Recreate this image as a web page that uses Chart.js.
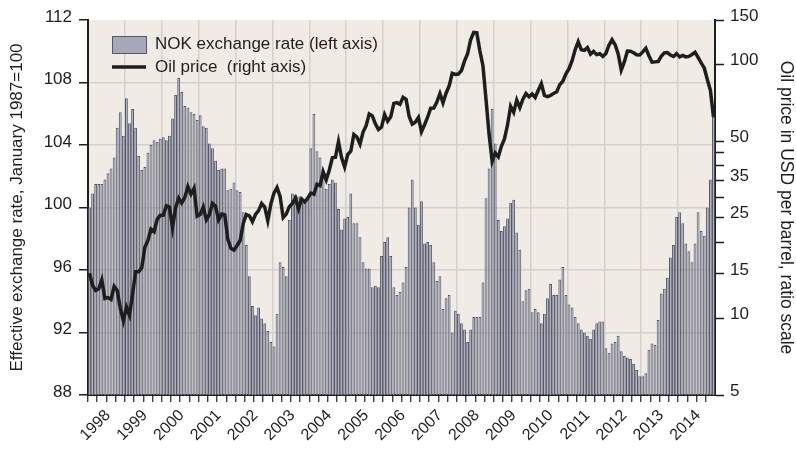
<!DOCTYPE html>
<html>
<head>
<meta charset="utf-8">
<script src="https://cdn.jsdelivr.net/npm/chart.js@4.4.0/dist/chart.umd.min.js"></script>
<style>
  html, body { margin: 0; padding: 0; background: #fff; }
</style>
</head>
<body>
<canvas id="chart" width="796" height="449"></canvas>
<script>
// years on the x axis, one bar / one line point per month
const years = [1998, 1999, 2000, 2001, 2002, 2003, 2004, 2005, 2006, 2007, 2008, 2009, 2010, 2011, 2012, 2013, 2014];

// NOK effective exchange rate, January 1987 = 100 (left axis)
const nokRate = [
  100.0, 100.9, 101.5, 101.5, 101.5, 101.8, 102.2, 102.5, 103.2, 105.1, 106.1, 104.6,
  107.0, 105.4, 106.3, 105.1, 103.3, 102.4, 102.6, 103.5, 104.0, 104.3, 104.2, 104.4,
  104.5, 104.3, 104.6, 105.7, 107.2, 108.3, 107.4, 106.5, 106.4, 106.1, 106.0, 105.6,
  105.9, 105.2, 105.1, 104.1, 103.8, 103.0, 102.4, 102.5, 102.5, 101.1, 101.2, 101.6,
  101.1, 101.0, 99.7, 97.6, 95.6, 93.7, 93.1, 93.6, 92.9, 92.6, 92.1, 91.4,
  91.1, 93.2, 96.5, 96.2, 95.6, 99.2, 100.9, 100.8, 100.7, 100.3, 100.4, 100.6,
  103.8, 106.0, 103.6, 103.2, 101.9, 101.2, 101.5, 101.8, 101.6, 99.9, 98.6, 99.3,
  99.4, 100.9, 99.0, 99.0, 98.1, 96.5, 96.1, 96.1, 94.9, 95.0, 94.9, 96.9,
  97.8, 98.1, 96.9, 94.9, 94.4, 94.6, 95.2, 96.2, 100.0, 101.8, 100.0, 98.9,
  100.4, 97.7, 97.8, 97.6, 96.5, 95.3, 95.6, 93.5, 94.2, 94.4, 92.0, 93.4,
  93.2, 92.6, 92.2, 91.4, 92.2, 93.0, 93.0, 93.0, 95.2, 100.6, 102.5, 106.3,
  104.1, 99.2, 98.5, 98.8, 99.3, 100.3, 100.5, 98.4, 97.3, 94.0, 94.7, 94.8,
  93.3, 93.5, 93.3, 92.6, 93.2, 94.2, 95.1, 94.4, 94.4, 95.4, 96.2, 94.4,
  93.8, 93.6, 93.0, 92.6, 92.2, 92.0, 91.8, 91.6, 92.2, 92.6, 92.7, 92.7,
  91.0, 90.7, 91.3, 91.4, 91.8, 90.8, 90.5, 90.4, 90.3, 90.0, 89.6, 89.2,
  89.2, 89.4, 90.9, 91.3, 91.2, 92.8, 94.5, 94.8, 95.5, 96.8, 97.6, 99.4,
  99.7, 99.0, 97.7, 97.2, 96.5, 97.7, 99.7, 98.5, 98.2, 100.0, 101.8, 105.8
];

// oil price, USD per barrel (right axis, log scale)
const oilPrice = [
  15.1, 13.5, 12.9, 13.1, 14.2, 12.0, 12.1, 11.9, 13.4, 12.9, 11.0, 9.8,
  11.1, 10.3, 12.5, 15.3, 15.3, 15.9, 19.1, 20.3, 22.5, 22.0, 24.6, 25.5,
  25.5, 27.8, 27.5, 22.8, 27.3, 29.8, 28.5, 30.0, 33.1, 30.9, 32.6, 25.3,
  25.7, 27.5, 24.5, 25.7, 28.4, 27.7, 24.5, 25.8, 25.6, 20.5, 18.9, 18.6,
  19.4, 20.3, 23.7, 25.7, 25.4, 24.1, 25.7, 26.6, 28.4, 27.5, 24.3, 28.3,
  31.2, 32.8, 30.3, 25.0, 25.8, 27.6, 28.4, 29.8, 27.1, 29.6, 28.8, 29.8,
  31.2, 30.9, 33.8, 33.4, 37.9, 35.2, 38.4, 43.0, 43.2, 49.8, 43.1, 39.6,
  44.3, 45.6, 53.1, 51.9, 48.7, 54.3, 57.5, 64.0, 62.9, 58.5, 55.5, 56.8,
  63.6, 59.9, 62.3, 70.4, 70.9, 69.8, 74.4, 73.0, 62.5, 58.3, 59.4, 62.0,
  54.5, 58.0, 62.1, 67.4, 67.5, 71.3, 77.0, 70.8, 77.2, 82.4, 92.5, 91.5,
  91.9, 94.8, 103.3, 110.4, 125.4, 133.9, 133.4, 113.4, 99.1, 72.8, 53.2, 41.6,
  44.9, 43.4, 47.7, 51.0, 57.9, 68.6, 64.9, 72.5, 67.7, 73.2, 77.0, 74.7,
  76.7, 74.3, 79.3, 84.2, 75.6, 74.8, 75.6, 77.1, 78.2, 83.5, 86.1, 92.0,
  96.5, 103.7, 114.6, 123.3, 114.5, 113.9, 116.7, 110.1, 112.8, 109.6, 110.5, 107.9,
  110.7, 119.3, 125.4, 119.8, 110.3, 95.2, 102.6, 113.2, 113.0, 111.5, 109.5, 109.2,
  112.3, 116.1, 108.5, 102.3, 102.6, 102.9, 107.9, 111.3, 111.6, 109.1, 107.8, 110.6,
  107.4, 108.8, 107.4, 107.8, 109.7, 111.9, 106.8, 101.6, 97.1, 87.4, 79.4, 62.3
];

// right axis tick marks and the ones that carry a label
const oilTicks = [5, 10, 15, 20, 25, 30, 35, 40, 45, 50, 100, 150];
const oilLabels = [5, 10, 15, 25, 35, 50, 100, 150];

const months = [];
years.forEach(y => {
    for (let m = 1; m <= 12; m++) months.push(y + '-' + (m < 10 ? '0' + m : m));
});

const barFill = '#a6a8b8';
const barEdge = '#55576a';
const gridGrey = '#d4d0cb';
const ink = '#1e1e1e';
const clear = 'rgba(0,0,0,0)';

Chart.defaults.font.family = '"Liberation Sans", Arial, Helvetica, sans-serif';
Chart.defaults.color = ink;

const plotBackground = {
    id: 'plotBackground',
    beforeDraw(chart) {
        const {ctx, chartArea} = chart;
        ctx.save();
        ctx.fillStyle = '#f0ebe4';
        ctx.fillRect(chartArea.left, chartArea.top, chartArea.right - chartArea.left, chartArea.bottom - chartArea.top);
        ctx.restore();
    }
};

// legend sits inside the plot, top left
const innerLegend = {
    id: 'innerLegend',
    afterDatasetsDraw(chart) {
        const {ctx, chartArea} = chart;
        const x = chartArea.left + 24;
        const y = chartArea.top + 16;
        ctx.save();
        ctx.fillStyle = barFill;
        ctx.fillRect(x, y, 34, 17);
        ctx.strokeStyle = barEdge;
        ctx.lineWidth = 1;
        ctx.strokeRect(x + 0.5, y + 0.5, 34, 17);
        ctx.beginPath();
        ctx.moveTo(x, y + 31);
        ctx.lineTo(x + 34, y + 31);
        ctx.strokeStyle = ink;
        ctx.lineWidth = 3.5;
        ctx.stroke();
        ctx.fillStyle = ink;
        ctx.font = '17px "Liberation Sans", Arial, sans-serif';
        ctx.textBaseline = 'middle';
        ctx.fillText(chart.data.datasets[1].label, x + 43, y + 8);
        ctx.fillText(chart.data.datasets[0].label, x + 43, y + 31);
        ctx.restore();
    }
};

const ctx = document.getElementById('chart').getContext('2d');
const chart = new Chart(ctx, {
    data: {
        labels: months,
        datasets: [{
            type: 'line',
            label: 'Oil price  (right axis)',
            data: oilPrice,
            yAxisID: 'yOil',
            borderColor: ink,
            borderWidth: 3.5,
            pointRadius: 0,
            tension: 0,
            order: 0
        }, {
            type: 'bar',
            label: 'NOK exchange rate (left axis)',
            data: nokRate,
            yAxisID: 'yNok',
            backgroundColor: barFill,
            borderColor: barEdge,
            borderWidth: 1,
            barPercentage: 0.92,
            categoryPercentage: 1,
            order: 1
        }]
    },
    options: {
        responsive: false,
        animation: false,
        layout: {padding: {top: 20}},
        plugins: {
            legend: {display: false},
            tooltip: {enabled: false}
        },
        scales: {
            x: {
                type: 'category',
                offset: true,
                grid: {
                    offset: true,
                    color: c => (c.index % 12 === 0 && c.index > 0) ? gridGrey : clear,
                    lineWidth: 1.5,
                    tickColor: c => (c.index % 3 === 0) ? ink : clear,
                    tickLength: 7,
                    tickWidth: 1.2
                },
                border: {color: ink, width: 2},
                ticks: {
                    autoSkip: false,
                    minRotation: 45,
                    maxRotation: 45,
                    padding: 4,
                    font: {size: 16},
                    callback: (v, i) => i % 12 === 6 ? String(years[Math.floor(i / 12)]) : ''
                },
                afterFit: s => { s.height = 54; }
            },
            yNok: {
                position: 'left',
                min: 88,
                max: 112,
                grid: {
                    color: c => (c.tick && (c.tick.value === 88 || c.tick.value === 112)) ? clear : gridGrey,
                    lineWidth: 1.5,
                    tickColor: ink,
                    tickLength: 9,
                    tickWidth: 1.5
                },
                border: {color: ink, width: 2},
                ticks: {stepSize: 4, padding: 7, labelOffset: -3, font: {size: 17}},
                title: {
                    display: true,
                    text: 'Effective exchange rate, January 1987=100',
                    font: {size: 17},
                    padding: {top: 7, bottom: 0}
                },
                afterFit: s => { s.width = 88; }
            },
            yOil: {
                type: 'logarithmic',
                position: 'right',
                min: 5,
                max: 150,
                afterBuildTicks: s => { s.ticks = oilTicks.map(v => ({value: v})); },
                grid: {
                    drawOnChartArea: false,
                    tickColor: ink,
                    tickLength: 9,
                    tickWidth: 1.5
                },
                border: {color: ink, width: 2},
                ticks: {
                    padding: 6,
                    labelOffset: -4,
                    font: {size: 17},
                    callback: v => oilLabels.includes(v) ? String(v) : ''
                },
                title: {
                    display: true,
                    text: 'Oil price in USD per barrel, ratio scale',
                    font: {size: 17.5},
                    padding: {top: 0, bottom: 0}
                },
                afterFit: s => { s.width = 81; }
            }
        }
    },
    plugins: [plotBackground, innerLegend]
});
</script>
</body>
</html>
